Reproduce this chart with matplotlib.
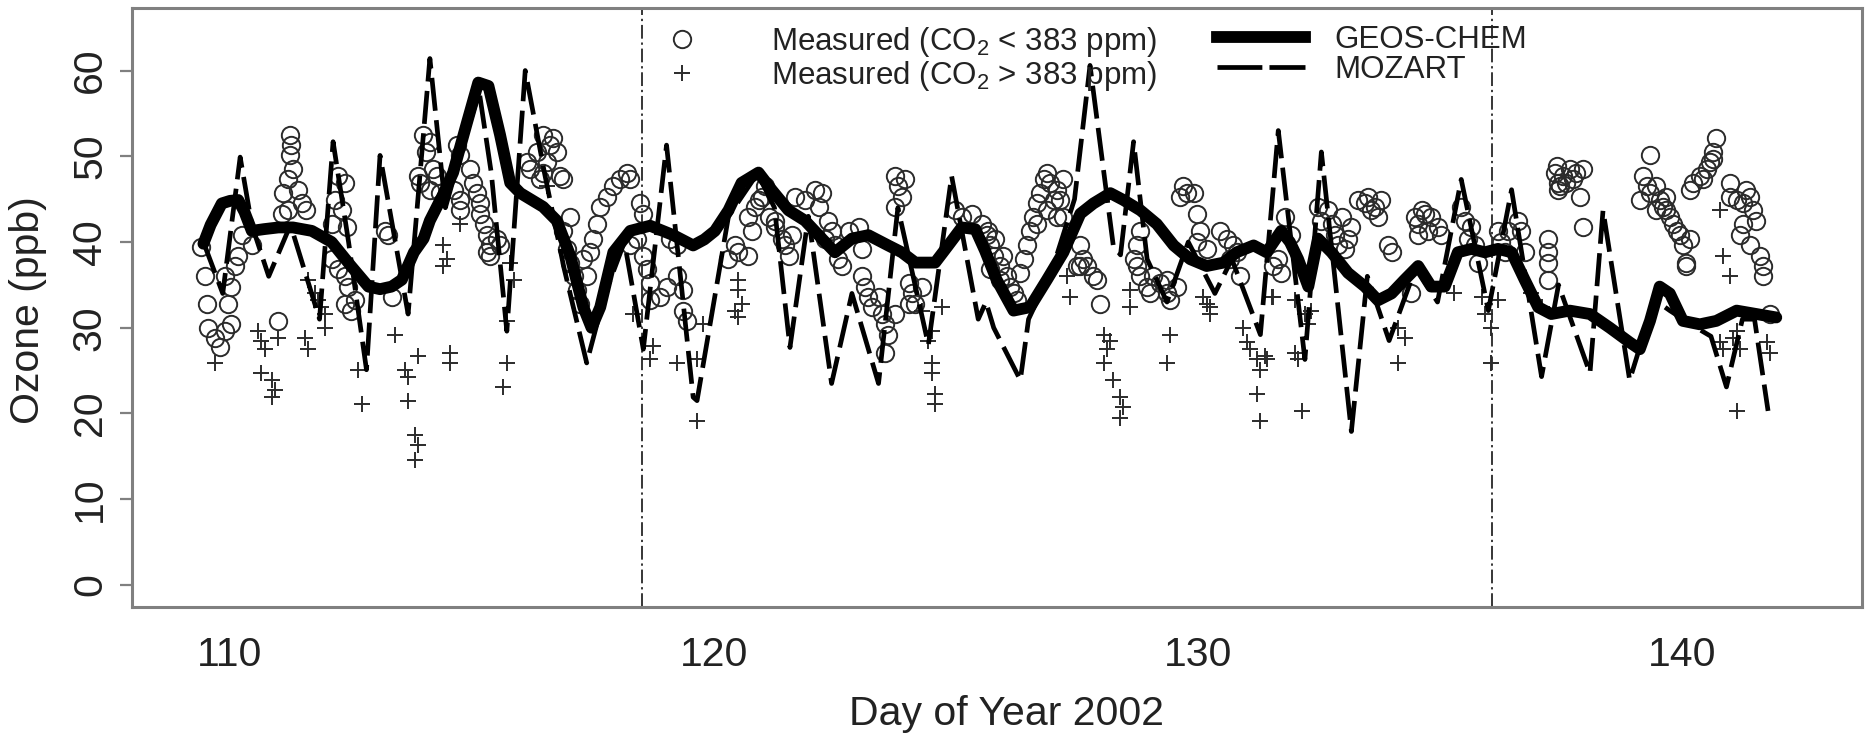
import matplotlib.pyplot as plt
from matplotlib.lines import Line2D

plt.rcParams['font.family'] = ['Liberation Sans', 'DejaVu Sans']
plt.rcParams['mathtext.fontset'] = 'custom'
plt.rcParams['mathtext.rm'] = 'Liberation Sans'
plt.rcParams['mathtext.it'] = 'Liberation Sans:italic'
plt.rcParams['mathtext.bf'] = 'Liberation Sans:bold'

# Measured ozone, CO2 < 383 ppm
low_day = [
    109.41, 109.48, 109.52, 109.55, 109.69, 109.79, 109.90, 109.96, 110.03, 110.10,
    110.17, 110.24, 110.45, 109.90, 110.03, 111.24, 111.27, 111.24, 111.31, 111.20,
    111.41, 111.10, 111.48, 111.20, 111.07, 111.58, 110.99, 112.24, 112.38, 112.17,
    112.31, 112.41, 112.10, 112.10, 112.24, 112.38, 112.44, 112.58, 112.51, 112.38,
    113.27, 113.20, 113.34, 113.89,
    113.98, 114.13, 114.06, 114.20, 114.27, 113.93, 114.13, 114.34, 114.68, 114.75,
    114.96, 115.03, 115.10, 115.17, 115.17, 115.24, 115.30, 115.37, 115.37, 115.51,
    115.58, 115.30, 114.62, 114.75, 114.75, 116.47, 116.68, 116.61, 116.75, 116.34,
    116.13, 116.20, 116.47, 116.82, 116.89, 116.41, 116.54, 117.03, 116.89, 116.96,
    117.03, 117.10, 117.16, 117.23, 117.30, 117.37, 117.44, 117.51, 117.58, 117.65,
    117.78, 117.92, 118.06, 118.20, 118.27, 118.47, 118.54, 118.40, 118.27, 118.54,
    118.61, 118.68, 118.68, 118.89, 119.02, 119.23, 119.37, 119.37, 119.44, 119.09,
    119.23,
    120.30, 120.50, 120.71, 120.44, 120.78, 120.71, 120.85, 120.99, 121.06, 120.92,
    121.13, 121.26, 121.40, 121.47, 121.54, 121.26, 121.61, 121.68, 121.88, 122.09,
    122.23, 122.16, 122.36, 122.43, 122.29, 122.50, 122.57, 122.64, 122.78, 122.99,
    123.05, 123.05, 123.12, 123.19, 123.26, 123.47, 123.54, 123.60, 123.54, 123.74,
    123.40, 123.74, 123.81, 123.88, 123.74, 123.95, 124.02, 124.09, 124.16, 124.02,
    124.29, 124.98, 125.12, 125.33, 125.53, 125.67, 125.81,
    125.64, 125.71, 125.78, 125.91, 126.05, 126.12, 126.19, 126.26, 125.91, 125.71,
    125.98, 126.33, 126.40, 126.46, 126.53, 126.60, 126.67, 126.74, 126.81, 126.88,
    126.95, 127.08, 127.15, 127.22, 127.08, 126.88, 126.67, 127.22, 127.02, 127.57,
    127.63, 127.50, 127.57, 127.70, 127.84, 127.91, 127.98, 128.81, 128.74, 128.67,
    128.74, 128.81, 128.94, 129.01, 129.08, 129.22, 129.36, 129.42, 129.56, 129.36,
    129.70, 129.77, 129.63, 129.91, 129.98, 130.05, 129.98, 130.18, 130.46, 130.60,
    130.73, 130.80, 130.67, 130.87, 131.56,
    131.79, 131.93, 131.66, 131.72, 132.48, 132.55, 132.69, 132.76, 132.83, 132.90,
    133.03, 133.10, 133.17, 132.97, 133.31, 133.45, 133.51, 133.65, 133.72, 133.79,
    133.58, 133.93, 134.00, 134.48, 134.55, 134.62, 134.69, 134.82, 134.96, 135.03,
    134.75, 134.55, 134.41, 135.44, 135.51, 135.65, 135.58, 135.72, 135.79, 136.20,
    136.27, 136.34, 136.41, 136.61, 136.68, 136.75, 137.37, 137.44, 137.44, 137.23,
    137.23, 137.23, 137.23,
    137.41, 137.55, 137.68, 137.82, 137.48, 137.61, 137.75, 137.89, 137.96, 137.96,
    139.34, 139.20, 139.27, 139.13, 139.34, 139.47, 139.54, 139.61, 139.68, 139.75,
    139.82, 139.89, 139.96, 140.02, 140.09, 140.09, 139.68, 139.47, 140.16, 140.71,
    140.64, 140.58, 140.51, 140.37, 140.23, 140.16, 140.44, 140.64, 140.99, 140.99,
    141.13, 141.26, 141.40, 141.47, 141.54, 141.26, 141.20, 141.40, 141.61, 141.68,
    141.68, 141.82, 141.33,
]
low_o3 = [
    39.4, 36.0, 32.8, 30.0, 28.8, 27.7, 29.6, 32.8, 34.8, 37.2,
    38.4, 40.8, 39.6, 36.0, 30.4, 52.5, 51.3, 50.1, 48.5, 47.3,
    46.1, 45.7, 44.5, 43.7, 43.3, 43.7, 30.8, 47.7, 46.9, 44.9,
    43.7, 41.7, 42.1, 38.0, 36.8, 36.0, 34.8, 33.2, 32.0, 32.8,
    40.8, 41.3, 33.6, 47.7,
    52.5, 51.7, 50.5, 48.5, 47.7, 46.9, 46.1, 45.7, 51.3, 50.1,
    48.5, 46.9, 45.7, 44.5, 43.3, 42.1, 40.8, 39.6, 38.4, 40.4,
    39.6, 38.8, 46.1, 44.9, 43.7, 52.5, 52.1, 51.3, 50.5, 50.5,
    49.3, 48.5, 48.1, 47.7, 47.3, 47.3, 49.3, 42.9, 41.3, 39.2,
    37.6, 36.0, 34.4, 32.8, 38.0, 36.0, 38.8, 40.4, 42.1, 44.1,
    45.3, 46.5, 47.3, 48.1, 47.3, 44.5, 43.3, 40.4, 39.6, 38.4,
    36.8, 35.2, 33.2, 33.6, 34.8, 36.0, 34.4, 32.0, 30.8, 40.4,
    39.6,
    38.0, 38.8, 38.4, 39.6, 41.3, 42.9, 44.1, 45.3, 46.5, 44.9,
    42.9, 41.7, 40.4, 39.6, 38.4, 42.5, 40.8, 45.3, 44.9, 46.1,
    45.7, 44.1, 42.5, 41.3, 40.4, 39.6, 38.0, 37.2, 41.3, 41.7,
    39.2, 36.0, 34.8, 33.6, 32.4, 31.6, 30.4, 29.2, 27.1, 31.6,
    33.6, 47.7, 46.5, 45.3, 44.1, 47.3, 35.2, 34.0, 32.8, 32.8,
    34.8, 43.7, 42.9, 43.3, 42.1, 41.3, 40.4,
    40.8, 39.6, 38.4, 37.2, 36.0, 34.8, 34.0, 33.2, 35.6, 36.8,
    38.4, 36.4, 38.0, 39.6, 41.3, 42.9, 44.5, 45.7, 47.3, 48.1,
    46.9, 46.1, 44.9, 42.9, 42.9, 43.7, 42.1, 47.3, 44.9, 39.6,
    38.0, 37.2, 37.2, 37.2, 36.0, 35.6, 32.8, 41.3, 39.6, 38.0,
    37.2, 36.0, 34.8, 34.0, 36.0, 35.2, 34.0, 33.2, 34.8, 35.6,
    46.5, 45.7, 45.3, 45.7, 43.3, 41.3, 40.0, 39.2, 41.3, 40.4,
    39.6, 38.8, 38.0, 36.0, 37.2,
    42.9, 40.8, 38.0, 36.4, 44.1, 42.5, 43.7, 42.1, 40.8, 39.6,
    39.2, 40.4, 41.7, 42.9, 44.9, 44.5, 45.3, 44.1, 42.9, 44.9,
    43.7, 39.6, 38.8, 42.9, 42.1, 43.7, 43.3, 42.9, 41.7, 40.8,
    41.3, 40.8, 34.0, 44.1, 42.5, 41.7, 40.4, 39.6, 37.6, 41.3,
    40.0, 38.8, 41.3, 42.5, 41.3, 38.8, 48.1, 46.9, 46.1, 40.4,
    38.8, 37.6, 35.6,
    48.9, 47.7, 48.5, 48.1, 46.5, 46.9, 47.3, 45.3, 48.5, 41.7,
    50.1, 47.7, 46.5, 44.9, 45.7, 46.5, 44.9, 44.1, 43.7, 42.9,
    42.1, 41.3, 40.8, 39.6, 37.6, 37.2, 45.3, 43.7, 40.4, 52.1,
    50.5, 49.3, 48.5, 47.7, 46.9, 46.1, 47.3, 49.7, 46.9, 45.3,
    44.9, 44.5, 45.3, 43.7, 42.5, 42.1, 40.8, 39.6, 38.4, 37.2,
    36.0, 31.6, 46.1,
]

# Measured ozone, CO2 > 383 ppm
high_day = [
    109.69, 110.58, 110.65, 110.72, 110.65, 110.86, 110.93, 110.86, 110.99, 111.55,
    111.62, 111.62, 111.76, 111.82, 111.89, 111.96, 111.96, 112.65, 112.72, 113.41,
    113.62, 113.68, 113.68, 113.82, 113.89, 113.82, 113.89,
    114.41, 114.48, 114.41, 114.75, 114.55, 114.55, 115.72, 115.65, 115.72, 115.79,
    115.86, 116.54, 118.33, 118.75, 118.68, 119.23, 119.64, 119.78, 119.64,
    120.50, 120.50, 120.44, 120.50, 120.57, 124.29, 124.50, 124.50, 124.50, 124.57,
    124.57, 124.71, 124.43,
    127.29, 127.36, 128.05, 128.12, 128.05, 128.25, 128.39, 128.46, 128.39, 128.19,
    128.60, 128.60, 129.42, 129.36, 130.11, 130.25, 130.25, 130.18, 130.94, 131.01,
    131.08, 131.22, 131.29, 131.22, 131.29, 131.42, 131.56,
    131.52, 132.00, 132.00, 132.07, 132.21, 132.28, 132.34, 132.14, 131.38, 134.13,
    134.13, 134.27, 135.30, 135.86, 135.93, 136.06, 136.06, 136.20, 136.89, 137.10,
    140.78, 140.85, 140.99, 140.78, 140.85, 141.06, 141.13, 141.20, 141.13, 141.75,
    141.82,
]
high_o3 = [
    25.9, 29.6, 28.4, 27.5, 24.7, 23.9, 22.7, 21.9, 28.8, 28.8,
    27.5, 35.6, 34.0, 33.2, 32.4, 31.6, 30.0, 25.1, 21.1, 29.2,
    25.1, 24.3, 21.5, 17.5, 16.3, 14.6, 26.7,
    39.6, 38.0, 37.2, 42.1, 27.1, 25.9, 25.9, 23.1, 30.8, 37.6,
    35.6, 46.5, 31.6, 27.9, 26.3, 25.9, 26.3, 30.4, 19.1,
    35.6, 34.4, 32.0, 31.2, 32.8, 32.0, 29.6, 25.9, 24.7, 22.3,
    21.1, 32.4, 28.4,
    36.0, 33.6, 29.2, 27.5, 25.9, 23.9, 21.9, 20.7, 19.5, 28.4,
    34.4, 32.4, 29.2, 25.9, 33.6, 32.4, 31.6, 32.8, 30.0, 28.3,
    27.5, 26.3, 25.1, 22.3, 19.1, 26.3, 33.6,
    33.6, 33.2, 27.1, 26.3, 31.6, 30.4, 32.0, 20.3, 26.7, 30.0,
    25.9, 28.8, 34.0, 33.6, 31.6, 30.0, 25.9, 33.2, 34.0, 32.4,
    43.7, 38.4, 36.0, 28.3, 27.5, 28.8, 29.6, 27.5, 20.3, 28.3,
    27.1,
]

# GEOS-CHEM model
geos_day = [
    109.45, 109.60, 109.83, 110.00, 110.17, 110.30, 110.45, 110.70, 111.00, 111.30,
    111.69, 112.10, 112.50, 112.86, 113.10, 113.34, 113.55, 113.80, 114.00, 114.13,
    114.40, 114.61, 114.89, 115.13, 115.34, 115.58, 115.79, 116.00, 116.47, 116.75,
    117.03, 117.30, 117.47, 117.65, 117.92, 118.27, 118.68, 119.16, 119.57, 119.80,
    120.02, 120.30, 120.57, 120.92, 121.19, 121.54, 121.88, 122.23, 122.50, 122.85,
    123.19, 123.60, 123.88, 124.16, 124.57, 124.84, 125.12, 125.40, 125.60, 125.84,
    126.19, 126.53, 126.88, 127.22, 127.57, 127.84, 128.19, 128.46, 128.81, 129.15,
    129.50, 129.84, 130.18, 130.53, 130.80, 131.15, 131.42, 131.72, 131.90, 132.07,
    132.28, 132.48, 132.76, 133.10, 133.45, 133.72, 134.00, 134.27, 134.55, 134.82,
    135.10, 135.37, 135.65, 135.93, 136.20, 136.48, 136.75, 137.03, 137.30, 137.68,
    138.10, 138.51, 138.92, 139.13, 139.34, 139.54, 139.75, 140.02, 140.37, 140.71,
    141.13, 141.54, 141.95,
]
geos_o3 = [
    39.8, 42.0, 44.5, 44.8, 44.9, 43.5, 41.3, 41.5, 41.7, 41.7,
    41.3, 40.0, 37.2, 34.8, 34.5, 34.8, 35.6, 38.8, 40.4, 42.5,
    45.5, 48.1, 53.8, 58.6, 58.2, 52.5, 46.9, 45.7, 44.1, 42.5,
    38.4, 32.4, 30.0, 32.4, 38.8, 41.3, 41.9, 40.8, 39.6, 40.3,
    41.3, 43.7, 46.9, 48.1, 46.1, 43.7, 42.5, 40.4, 38.8, 40.4,
    40.8, 39.6, 38.8, 37.6, 37.6, 39.6, 41.7, 41.5, 39.0, 35.6,
    32.0, 32.4, 35.6, 38.8, 43.3, 44.5, 45.7, 44.9, 43.7, 42.1,
    39.6, 38.0, 37.2, 37.6, 38.8, 39.6, 38.8, 41.3, 40.0, 38.0,
    34.8, 40.4, 38.8, 36.4, 34.8, 33.2, 34.0, 35.6, 37.2, 34.8,
    34.8, 38.8, 39.2, 38.8, 39.2, 38.8, 35.6, 32.4, 31.6, 32.0,
    31.6, 30.0, 28.3, 27.5, 30.8, 34.8, 34.0, 30.8, 30.4, 30.8,
    32.0, 31.6, 31.2,
]

# MOZART model
moz_day = [
    109.45, 109.85, 110.21, 110.45, 110.80, 111.25, 111.85, 112.13, 112.45, 112.82,
    113.10, 113.68, 114.13, 114.45, 114.85, 115.15, 115.40, 115.72, 116.10, 116.50,
    116.90, 117.37, 117.75, 118.15, 118.54, 119.02, 119.57, 119.65, 120.30, 120.90,
    121.25, 121.57, 121.95, 122.43, 122.85, 123.40, 123.80, 124.43, 124.91, 125.46,
    125.62, 125.78, 126.33, 126.50, 127.00, 127.45, 127.77, 128.25, 128.40, 128.67,
    128.95, 129.36, 129.80, 130.35, 130.70, 131.29, 131.66, 132.21, 132.55, 133.17,
    133.50, 133.95, 134.50, 134.95, 135.44, 136.00, 136.48, 137.10, 137.45, 138.10,
    138.37, 138.92, 139.20, 139.50, 139.75, 140.30, 140.60, 140.92, 141.25, 141.50,
    141.78,
]
moz_o3 = [
    40.0, 34.0, 49.9, 42.0, 36.0, 42.0, 31.0, 51.7, 40.0, 25.1,
    50.1, 31.6, 61.4, 44.0, 52.0, 57.5, 48.0, 29.6, 60.0, 48.0,
    37.0, 25.9, 34.0, 40.0, 27.5, 51.3, 21.9, 21.5, 43.0, 48.0,
    44.0, 27.7, 43.0, 23.5, 34.0, 23.5, 44.0, 28.0, 47.7, 31.0,
    33.0, 30.0, 23.9, 31.0, 37.0, 45.0, 60.6, 39.6, 38.5, 51.7,
    38.0, 33.0, 40.0, 34.0, 38.0, 29.2, 53.0, 26.3, 50.5, 17.9,
    36.0, 28.5, 37.0, 33.0, 47.3, 32.0, 46.1, 24.3, 35.0, 24.7,
    43.7, 23.9, 29.0, 33.0, 32.0, 30.0, 29.0, 23.1, 31.0, 31.0,
    20.3,
]

# Days bounding the focus period
period_days = [118.52, 136.07]

frame_grey = '#808080'
ink = '#222222'
mark = '#2b2b2b'

fig = plt.figure(figsize=(18.67, 7.37), dpi=100)
ax = fig.add_axes([0.0707, 0.1764, 0.9266, 0.8128])

ax.plot(low_day, low_o3, ls='none', marker='o', ms=12.5, mfc='none',
        mec=mark, mew=1.4, zorder=2)
ax.plot(high_day, high_o3, ls='none', marker='+', ms=11.5, mec=mark,
        mew=1.4, zorder=2)
ax.plot(moz_day, moz_o3, color='black', lw=3.4, dashes=(7, 2),
        dash_joinstyle='round', zorder=3)
ax.plot(geos_day, geos_o3, color='black', lw=8.5, solid_joinstyle='round',
        solid_capstyle='round', zorder=4)

for d in period_days:
    ax.axvline(d, color='black', lw=1.1, dashes=(9, 2.5, 1.5, 2.5), zorder=1)

ax.set_xlim(107.975, 143.72)
ax.set_ylim(-2.57, 67.3)
ax.set_xticks([110, 120, 130, 140])
ax.set_yticks([0, 10, 20, 30, 40, 50, 60])
ax.tick_params(axis='x', length=0, pad=21, labelsize=29.5, labelcolor=ink)
ax.tick_params(axis='y', length=8.6, width=1.6, color=frame_grey, pad=8,
               labelsize=29.5, labelcolor=ink)
for lab in ax.get_yticklabels():
    lab.set_rotation(90)
    lab.set_va('center')

for s in ax.spines.values():
    s.set_color(frame_grey)
    s.set_linewidth(2.2)

fig.text(1006 / 1867, 1 - 714 / 737, 'Day of Year 2002', ha='center',
         va='center', fontsize=29.5, color=ink)
fig.text(28 / 1867, 1 - 310 / 737, 'Ozone (ppb)', ha='center', va='center',
         rotation=90, fontsize=29.5, color=ink)

# Legend: measurements on the left, models on the right
meas_handles = [
    Line2D([], [], ls='none', marker='o', ms=12.5, mfc='none', mec=mark, mew=1.4),
    Line2D([], [], ls='none', marker='+', ms=11.5, mec=mark, mew=1.4),
]
meas_labels = ['Measured (CO$_2$ < 383 ppm)', 'Measured (CO$_2$ > 383 ppm)']
model_handles = [
    Line2D([], [], color='black', lw=8.5),
    Line2D([], [], color='black', lw=3.4, dashes=(9.5, 1.5)),
]
model_labels = ['GEOS-CHEM', 'MOZART']

leg_kw = dict(frameon=False, fontsize=22.5, borderpad=0, borderaxespad=0,
              labelspacing=0.0, loc='upper left', labelcolor=ink)
leg1 = ax.legend(meas_handles, meas_labels, bbox_to_anchor=(0.2923, 0.972),
                 handlelength=2.84, handletextpad=1.42, **leg_kw)
ax.add_artist(leg1)
ax.legend(model_handles, model_labels, bbox_to_anchor=(0.627, 0.972),
          handlelength=2.84, handletextpad=0.94, **leg_kw)

fig.savefig('out.png', dpi=100)
